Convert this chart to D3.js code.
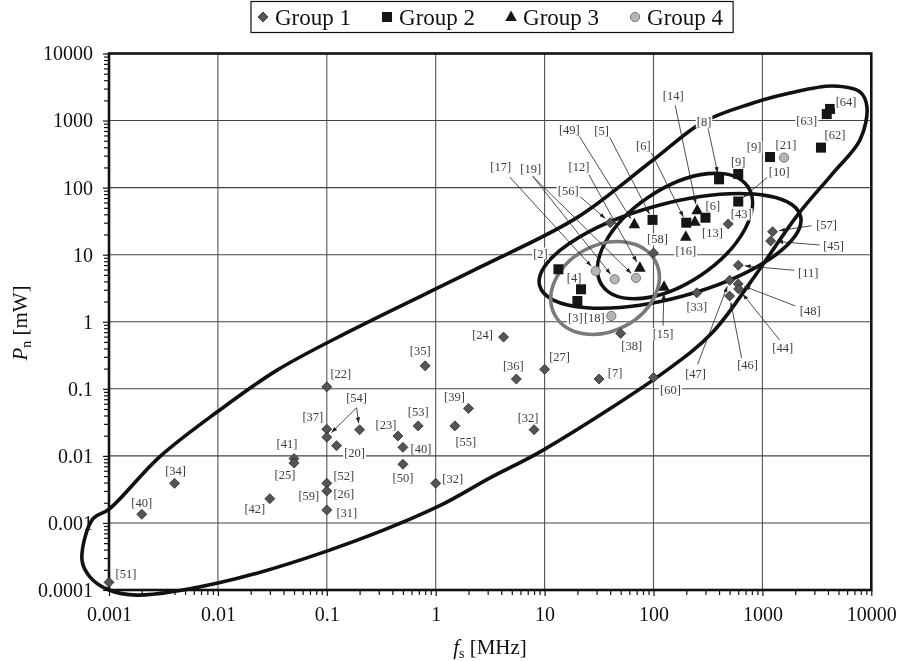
<!DOCTYPE html>
<html>
<head>
<meta charset="utf-8">
<script src="https://cdn.jsdelivr.net/npm/d3@7"></script>
<style>
  body { margin: 0; background: #fff; }
  text { font-family: "Liberation Serif", "DejaVu Serif", serif; }
  svg { filter: grayscale(1); }
</style>
</head>
<body>
<div id="canvas"></div>
<script>
"use strict"

/* Data: each point is [fs (MHz), Pn (mW)] */
let group1 = [
    [0.001, 0.00013], [0.002, 0.00135], [0.004, 0.0039], [0.03, 0.0023],
    [0.05, 0.0091], [0.05, 0.0078], [0.1, 0.107], [0.1, 0.025],
    [0.1, 0.019], [0.2, 0.0245], [0.123, 0.0142], [0.1, 0.0039],
    [0.1, 0.003], [0.1, 0.00156], [0.45, 0.0198], [0.5, 0.0134],
    [0.5, 0.0075], [0.69, 0.028], [0.8, 0.22], [2, 0.051],
    [1.5, 0.028], [1.0, 0.0039], [4.2, 0.59], [5.5, 0.14],
    [10, 0.195], [8, 0.0246], [50, 0.67], [31.6, 0.14],
    [100, 0.147], [40, 30], [100, 10.6], [486, 28.7],
    [250, 2.7], [1240, 22], [1190, 16], [600, 6.95],
    [500, 4.15], [600, 3.66], [605, 3.08], [500, 2.42]
];
let group2 = [
    [13.4, 6.06], [21.6, 3.05], [20, 2.04], [98, 33], [200, 30],
    [300, 35.6], [400, 133], [600, 160], [600, 62], [1175, 286],
    [3450, 395], [3900, 1250], [4180, 1490]
];
let group3 = [
    [66.7, 28.4], [75, 6.4], [252, 46], [240, 31], [198, 18.5], [125, 3.33]
];
let group4 = [
    [29.5, 5.7], [44, 4.3], [69, 4.5], [41, 1.22], [1580, 280]
];
let groupNames = ["Group 1", "Group 2", "Group 3", "Group 4"];

let xTicks = [0.001, 0.01, 0.1, 1, 10, 100, 1000, 10000];
let xTickLabels = ["0.001", "0.01", "0.1", "1", "10", "100", "1000", "10000"];
let yTicks = [0.0001, 0.001, 0.01, 0.1, 1, 10, 100, 1000, 10000];
let yTickLabels = ["0.0001", "0.001", "0.01", "0.1", "1", "10", "100", "1000", "10000"];

/* Outline of the large region (fs, Pn) */
let bigOutline = [
    [5.65e-4, 2.8e-4], [7.1e-4, 1.15e-3], [0.001, 1.6e-3], [2.9e-3, 9.6e-3],
    [9.8e-3, 0.045], [0.035, 0.19], [0.17, 0.75], [2.55, 6.5],
    [20, 36], [99, 258], [285, 950], [770, 1770],
    [1790, 2580], [4450, 3280], [7870, 2670], [9120, 1600],
    [7870, 513], [4450, 165], [2100, 39], [770, 3.8],
    [344, 0.68], [133, 0.19], [9.7, 0.0122], [3.15, 4.7e-3],
    [1.03, 1.73e-3], [0.1, 3.8e-4], [0.01, 1.27e-4], [1.8e-3, 8.4e-5],
    [0.001, 1.0e-4], [6.7e-4, 1.56e-4]
];

/* Smaller regions: centre (fs, Pn), radii in px, tilt in degrees */
let regions = [
    {cx: 142, cy: 11.4, rx: 135, ry: 47, angle: -15, gray: false},
    {cx: 157.5, cy: 19.0, rx: 88, ry: 47, angle: -34, gray: false},
    {cx: 35.9, cy: 3.19, rx: 57, ry: 43, angle: -28, gray: true}
];

/* Reference labels: g = group, i = point index, dx/dy = label offset,
   arrow = start of leader line relative to the label */
let refLabels = [
    {t: "[51]", g: 1, i: 0, dx: 17, dy: -9},
    {t: "[40]", g: 1, i: 1, dx: 0, dy: -12},
    {t: "[34]", g: 1, i: 2, dx: 1, dy: -13},
    {t: "[42]", g: 1, i: 3, dx: -15, dy: 10},
    {t: "[41]", g: 1, i: 4, dx: -7, dy: -15},
    {t: "[25]", g: 1, i: 5, dx: -9, dy: 12},
    {t: "[22]", g: 1, i: 6, dx: 14, dy: -13},
    {t: "[37]", g: 1, i: 7, dx: -14, dy: -13},
    {t: "[54]", g: 1, i: 9, dx: -3, dy: -32, arrow: [0, 10], also: [[1, 8]]},
    {t: "[20]", g: 1, i: 10, dx: 18, dy: 7},
    {t: "[52]", g: 1, i: 11, dx: 17, dy: -8},
    {t: "[26]", g: 1, i: 12, dx: 17, dy: 3},
    {t: "[59]", g: 1, i: 12, dx: -18, dy: 5},
    {t: "[31]", g: 1, i: 13, dx: 20, dy: 3},
    {t: "[23]", g: 1, i: 14, dx: -12, dy: -11},
    {t: "[40]", g: 1, i: 15, dx: 18, dy: 1},
    {t: "[50]", g: 1, i: 16, dx: 0, dy: 13},
    {t: "[53]", g: 1, i: 17, dx: 0, dy: -14},
    {t: "[35]", g: 1, i: 18, dx: -5, dy: -15},
    {t: "[39]", g: 1, i: 19, dx: -14, dy: -12},
    {t: "[55]", g: 1, i: 20, dx: 11, dy: 16},
    {t: "[32]", g: 1, i: 21, dx: 17, dy: -5},
    {t: "[24]", g: 1, i: 22, dx: -21, dy: -2},
    {t: "[36]", g: 1, i: 23, dx: -3, dy: -13},
    {t: "[27]", g: 1, i: 24, dx: 15, dy: -13},
    {t: "[32]", g: 1, i: 25, dx: -6, dy: -12},
    {t: "[38]", g: 1, i: 26, dx: 11, dy: 12},
    {t: "[7]", g: 1, i: 27, dx: 16, dy: -6},
    {t: "[60]", g: 1, i: 28, dx: 17, dy: 12},
    {t: "[56]", g: 1, i: 29, dx: -42, dy: -32, arrow: [12, 6]},
    {t: "[58]", g: 1, i: 30, dx: 4, dy: -14},
    {t: "[43]", g: 1, i: 31, dx: 13, dy: -10},
    {t: "[33]", g: 1, i: 32, dx: 0, dy: 14},
    {t: "[57]", g: 1, i: 33, dx: 54, dy: -7, arrow: [-15, 1]},
    {t: "[45]", g: 1, i: 34, dx: 63, dy: 5, arrow: [-14, -1]},
    {t: "[11]", g: 1, i: 35, dx: 70, dy: 7, arrow: [-14, -2]},
    {t: "[47]", g: 1, i: 36, dx: -34, dy: 93, arrow: [2, -9]},
    {t: "[48]", g: 1, i: 37, dx: 72, dy: 27, arrow: [-15, -5]},
    {t: "[44]", g: 1, i: 38, dx: 44, dy: 59, arrow: [-3, -8]},
    {t: "[46]", g: 1, i: 39, dx: 18, dy: 69, arrow: [-6, -7]},
    {t: "[2]", g: 2, i: 0, dx: -18, dy: -16},
    {t: "[4]", g: 2, i: 1, dx: -7, dy: -12},
    {t: "[3]", g: 2, i: 2, dx: -2, dy: 17},
    {t: "[5]", g: 2, i: 3, dx: -51, dy: -89, arrow: [8, 6]},
    {t: "[6]", g: 2, i: 4, dx: -43, dy: -77, arrow: [8, 7]},
    {t: "[13]", g: 2, i: 5, dx: 7, dy: 15},
    {t: "[8]", g: 2, i: 6, dx: -15, dy: -58, arrow: [4, 7]},
    {t: "[9]", g: 2, i: 7, dx: 0, dy: -12},
    {t: "[10]", g: 2, i: 8, dx: 41, dy: -30, arrow: [-12, 6]},
    {t: "[9]", g: 2, i: 9, dx: -16, dy: -10},
    {t: "[62]", g: 2, i: 10, dx: 14, dy: -13},
    {t: "[63]", g: 2, i: 11, dx: -20, dy: 7},
    {t: "[64]", g: 2, i: 12, dx: 16, dy: -7},
    {t: "[49]", g: 3, i: 0, dx: -65, dy: -95, arrow: [10, 7]},
    {t: "[12]", g: 3, i: 1, dx: -61, dy: -101, arrow: [10, 8]},
    {t: "[14]", g: 3, i: 2, dx: -24, dy: -115, arrow: [2, 10]},
    {t: "[6]", g: 3, i: 3, dx: 18, dy: -16},
    {t: "[16]", g: 3, i: 4, dx: 0, dy: 14},
    {t: "[15]", g: 3, i: 5, dx: -1, dy: 47, arrow: [0, -8]},
    {t: "[17]", g: 4, i: 0, dx: -95, dy: -104, arrow: [9, 10]},
    {t: "[19]", g: 4, i: 1, dx: -84, dy: -111, arrow: [2, 8], also: [[4, 2]]},
    {t: "[18]", g: 4, i: 3, dx: -17, dy: 2},
    {t: "[21]", g: 4, i: 4, dx: 2, dy: -13}
];

/* Drawing configuration */
let svgWidth = 906;
let svgHeight = 661;
let plotLeft = 109, plotRight = 871.3, plotTop = 53.5, plotBottom = 590;

let svg = d3.select("#canvas")
    .append("svg")
    .attr("width", svgWidth)
    .attr("height", svgHeight);

let xScale = d3.scaleLog()
    .domain([0.001, 10000])
    .range([plotLeft, plotRight]);

let yScale = d3.scaleLog()
    .domain([0.0001, 10000])
    .range([plotBottom, plotTop]);

let groups = [group1, group2, group3, group4];
function px(g, i) {
    let d = groups[g - 1][i];
    return [xScale(d[0]), yScale(d[1])];
}

/* Arrow head */
svg.append("defs").append("marker")
    .attr("id", "arrow")
    .attr("viewBox", "0 0 10 10")
    .attr("refX", 10)
    .attr("refY", 5)
    .attr("markerWidth", 6)
    .attr("markerHeight", 6)
    .attr("markerUnits", "userSpaceOnUse")
    .attr("orient", "auto")
    .append("path")
    .attr("d", "M0,1.5L10,5L0,8.5Z")
    .attr("fill", "#222");

/* Grid */
svg.append("g").selectAll("line")
    .data(xTicks)
    .join("line")
    .attr("x1", d => xScale(d)).attr("x2", d => xScale(d))
    .attr("y1", plotTop).attr("y2", plotBottom)
    .attr("stroke", "#555").attr("stroke-width", 1.1);

svg.append("g").selectAll("line")
    .data(yTicks)
    .join("line")
    .attr("x1", plotLeft).attr("x2", plotRight)
    .attr("y1", d => yScale(d)).attr("y2", d => yScale(d))
    .attr("stroke", "#444").attr("stroke-width", 1.1);

/* Minor tick values for the log axes */
function minors(lo, hi) {
    let out = [];
    for (let d = lo; d < hi; d *= 10) {
        for (let k = 2; k <= 9; k++) out.push(d * k);
    }
    return out;
}

svg.append("g")
    .attr("transform", "translate(0," + plotBottom + ")")
    .call(d3.axisBottom(xScale).tickValues(xTicks)
        .tickFormat((d, i) => xTickLabels[i]).tickSize(6).tickPadding(11));
svg.append("g")
    .attr("transform", "translate(0," + plotBottom + ")")
    .call(d3.axisBottom(xScale).tickValues(minors(0.001, 10000))
        .tickFormat("").tickSize(5));

svg.append("g")
    .attr("transform", "translate(" + plotLeft + ",0)")
    .call(d3.axisLeft(yScale).tickValues(yTicks)
        .tickFormat((d, i) => yTickLabels[i]).tickSize(6).tickPadding(10));
svg.append("g")
    .attr("transform", "translate(" + plotLeft + ",0)")
    .call(d3.axisLeft(yScale).tickValues(minors(0.0001, 10000))
        .tickFormat("").tickSize(5));

svg.selectAll(".domain").remove();
svg.selectAll(".tick line").attr("stroke", "#111").attr("stroke-width", 1.2);
svg.selectAll(".tick text")
    .attr("font-family", "Liberation Serif, serif")
    .attr("font-size", 20)
    .attr("fill", "#111");

/* Plot frame */
svg.append("rect")
    .attr("x", plotLeft).attr("y", plotTop)
    .attr("width", plotRight - plotLeft).attr("height", plotBottom - plotTop)
    .attr("fill", "none").attr("stroke", "#111").attr("stroke-width", 2.6);

/* Reference labels: white backgrounds first so they break the grid */
let labelLayer = svg.append("g");
let labelTexts = labelLayer.selectAll("text")
    .data(refLabels)
    .join("text")
    .attr("x", d => px(d.g, d.i)[0] + d.dx)
    .attr("y", d => px(d.g, d.i)[1] + d.dy)
    .attr("dy", "0.35em")
    .attr("text-anchor", "middle")
    .attr("font-size", 12.5)
    .attr("fill", "#3c3c3c")
    .text(d => d.t);

labelTexts.each(function () {
    let b = this.getBBox();
    labelLayer.insert("rect", "text")
        .attr("x", b.x - 1).attr("y", b.y + 1)
        .attr("width", b.width + 2).attr("height", b.height - 2)
        .attr("fill", "#fff");
});

/* Regions */
svg.append("path")
    .datum(bigOutline)
    .attr("d", d3.line()
        .x(d => xScale(d[0]))
        .y(d => yScale(d[1]))
        .curve(d3.curveCatmullRomClosed.alpha(0.5)))
    .attr("fill", "none")
    .attr("stroke", "#111")
    .attr("stroke-width", 3.6);

svg.append("g").selectAll("ellipse")
    .data(regions)
    .join("ellipse")
    .attr("transform", d => "translate(" + xScale(d.cx) + "," + yScale(d.cy) + ") rotate(" + d.angle + ")")
    .attr("rx", d => d.rx)
    .attr("ry", d => d.ry)
    .attr("fill", "none")
    .attr("stroke", d => d.gray ? "#7a7a7a" : "#111")
    .attr("stroke-width", 3.6);

/* Leader arrows */
let arrowData = [];
refLabels.forEach(function (d) {
    if (!d.arrow) return;
    let p = px(d.g, d.i);
    let sx = p[0] + d.dx + d.arrow[0];
    let sy = p[1] + d.dy + d.arrow[1];
    let targets = [[d.g, d.i]].concat(d.also || []);
    targets.forEach(function (t) {
        let q = px(t[0], t[1]);
        let len = Math.hypot(q[0] - sx, q[1] - sy);
        let k = (len - 6.5) / len;
        arrowData.push([sx, sy, sx + (q[0] - sx) * k, sy + (q[1] - sy) * k]);
    });
});

svg.append("g").selectAll("line")
    .data(arrowData)
    .join("line")
    .attr("x1", d => d[0]).attr("y1", d => d[1])
    .attr("x2", d => d[2]).attr("y2", d => d[3])
    .attr("stroke", "#222")
    .attr("stroke-width", 0.8)
    .attr("marker-end", "url(#arrow)");

/* Markers */
let diamond = "M0,-5L5,0L0,5L-5,0Z";
let triangle = "M0,-6.5L5.8,4L-5.8,4Z";

function drawMarker(sel, g) {
    if (g === 1) {
        sel.append("path").attr("d", diamond)
            .attr("fill", "#555").attr("stroke", "#2a2a2a").attr("stroke-width", 0.8);
    } else if (g === 2) {
        sel.append("rect").attr("x", -5).attr("y", -5)
            .attr("width", 10).attr("height", 10).attr("fill", "#151515");
    } else if (g === 3) {
        sel.append("path").attr("d", triangle).attr("fill", "#151515");
    } else {
        sel.append("circle").attr("r", 4.6)
            .attr("fill", "#b5b5b5").attr("stroke", "#777").attr("stroke-width", 1);
    }
}

groups.forEach(function (data, k) {
    svg.append("g").selectAll("g")
        .data(data)
        .join("g")
        .attr("transform", d => "translate(" + xScale(d[0]) + "," + yScale(d[1]) + ")")
        .each(function () { drawMarker(d3.select(this), k + 1); });
});

labelLayer.raise();

/* Axis titles */
let yTitle = svg.append("text")
    .attr("transform", "translate(27,323) rotate(-90)")
    .attr("text-anchor", "middle")
    .attr("font-size", 21)
    .attr("fill", "#111");
yTitle.append("tspan").attr("font-style", "italic").text("P");
yTitle.append("tspan").attr("font-size", 14).attr("dy", 4).text("n");
yTitle.append("tspan").attr("dy", -4).text(" [mW]");

let xTitle = svg.append("text")
    .attr("x", 490)
    .attr("y", 654)
    .attr("text-anchor", "middle")
    .attr("font-size", 21)
    .attr("fill", "#111");
xTitle.append("tspan").attr("font-style", "italic").text("f");
xTitle.append("tspan").attr("font-size", 14).attr("dy", 4).text("s");
xTitle.append("tspan").attr("dy", -4).text(" [MHz]");

/* Legend */
let legend = svg.append("g");
let legendBox = legend.append("rect")
    .attr("y", 1.5)
    .attr("height", 31)
    .attr("fill", "#fff")
    .attr("stroke", "#111")
    .attr("stroke-width", 1.2);

let cursor = 263;
groupNames.forEach(function (name, k) {
    let item = legend.append("g").attr("transform", "translate(" + cursor + ",17)");
    drawMarker(item, k + 1);
    let label = legend.append("text")
        .attr("x", cursor + 12)
        .attr("y", 25)
        .attr("font-size", 23)
        .attr("fill", "#111")
        .text(name);
    cursor += 12 + label.node().getComputedTextLength() + 36;
});
legendBox.attr("x", 251).attr("width", cursor - 36 + 10 - 251);
</script>
</body>
</html>
